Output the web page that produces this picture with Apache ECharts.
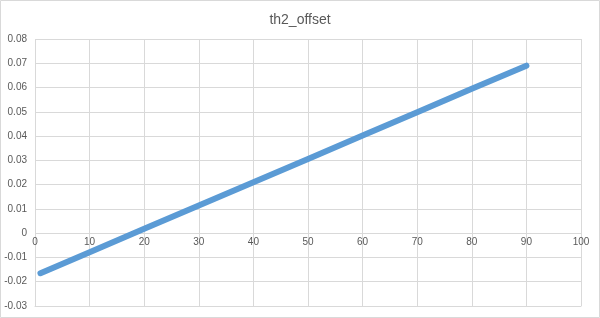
<!DOCTYPE html>
<html><head><meta charset="utf-8">
<script src="https://cdn.jsdelivr.net/npm/echarts@6/dist/echarts.min.js"></script>
<style>html,body{margin:0;padding:0;background:#fff}#c{width:600px;height:318px}</style>
</head><body><div id="c"></div>
<script>
var title = "th2_offset";
var xValues = [1, 10, 20, 30, 40, 50, 60, 70, 80, 90];
var yValues = [-0.0165, -0.0079, 0.0018, 0.0114, 0.0210, 0.0306, 0.0402, 0.0498, 0.0595, 0.069];
var Y_UNIT = 100;
var data = xValues.map(function(x, i){ return [x, yValues[i] * Y_UNIT]; });
var chart = echarts.init(document.getElementById('c'));
var txt = '#595959', gl = '#d9d9d9';
var gridTop = 39, gridBottom = 12, yMin = -3, yMax = 8;
var zeroShift = (318 - gridTop - gridBottom) * (0 - yMin) / (yMax - yMin);
chart.setOption({
  animation: false,
  title: {text: title, left: 'center', top: 8, textStyle: {fontFamily: 'Liberation Sans', fontWeight: 'normal', fontSize: 14, color: txt}},
  graphic: [{type: 'rect', shape: {x: 0.5, y: 0.5, width: 599, height: 317}, style: {fill: 'none', stroke: gl, lineWidth: 1}, silent: true}],
  grid: {left: 35, right: 19, top: gridTop, bottom: gridBottom},
  xAxis: {type: 'value', min: 0, max: 100, interval: 10,
    axisLine: {onZero: false, lineStyle: {color: gl}}, axisTick: {show: false},
    axisLabel: {color: txt, fontSize: 10, fontFamily: 'Liberation Sans', margin: 4 - zeroShift, showMinLabel: true, showMaxLabel: true},
    splitLine: {show: true, lineStyle: {color: gl}}},
  yAxis: {type: 'value', min: yMin, max: yMax, interval: 1,
    axisLine: {show: false}, axisTick: {show: false},
    axisLabel: {color: txt, fontSize: 10, fontFamily: 'Liberation Sans', margin: 8, showMinLabel: true, showMaxLabel: true, hideOverlap: false,
      formatter: function(v){ return v === 0 ? '0' : (v / Y_UNIT).toFixed(2); }},
    splitLine: {show: true, lineStyle: {color: gl}}},
  series: [{type: 'line', data: data, showSymbol: false, symbol: 'none',
    lineStyle: {color: '#5B9BD5', width: 6, cap: 'round', join: 'round'}}]
});
</script></body></html>
